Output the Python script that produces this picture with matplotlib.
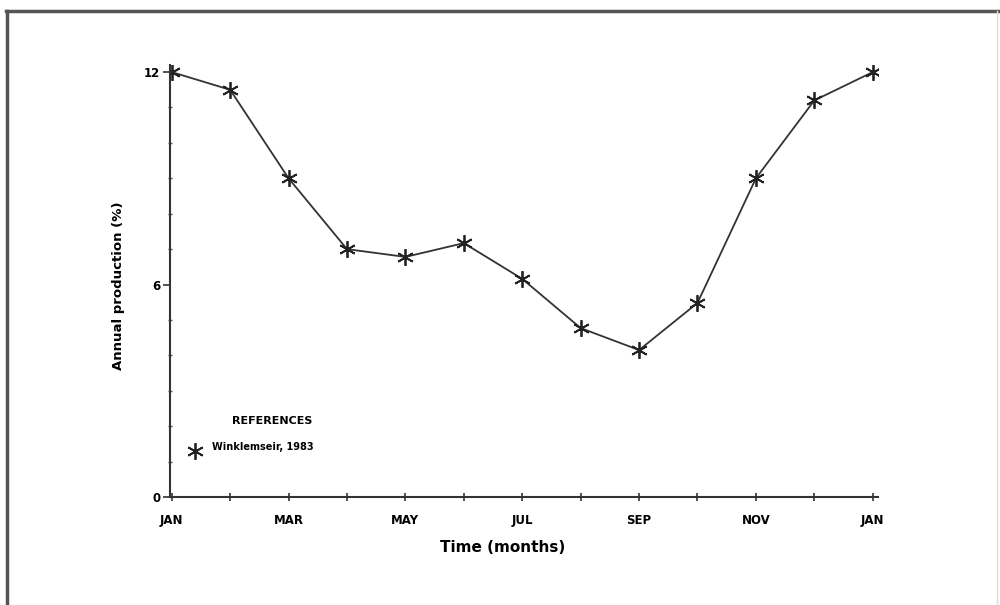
import matplotlib
matplotlib.use("Agg")
import matplotlib.pyplot as plt
from matplotlib.lines import Line2D

months = ["JAN", "FEB", "MAR", "APR", "MAY", "JUN", "JUL", "AUG", "SEP", "OCT", "NOV", "DEC", "JAN"]
production = [12.0, 11.5, 9.0, 7.0, 6.78, 7.17, 6.16, 4.77, 4.15, 5.48, 9.0, 11.2, 12.0]
xtick_labels = ["JAN", "", "MAR", "", "MAY", "", "JUL", "", "SEP", "", "NOV", "", "JAN"]
ytick_values = [0, 6, 12]

plt.rcParams['font.family'] = ['DejaVu Sans']
fig = plt.figure(figsize=(10, 6.05), dpi=100)
fig.patch.set_facecolor('white')

# outer frame lines
fig.add_artist(Line2D([0.006, 1.0], [1 - 11/605, 1 - 11/605], color='#555555', lw=2.5, transform=fig.transFigure))
fig.add_artist(Line2D([0.007, 0.007], [0, 1 - 11/605], color='#555555', lw=2.5, transform=fig.transFigure))
fig.add_artist(Line2D([0.997, 0.997], [0, 1 - 11/605], color='#dddddd', lw=1, transform=fig.transFigure))

ax = fig.add_axes([0.170, 1 - 497/605, 0.708, (497 - 65)/605])
x = list(range(len(months)))
ax.plot(x, production, color='#333333', lw=1.3, marker=(6, 2, 0), markersize=12,
        markeredgewidth=1.3, markeredgecolor='#222222')

ax.set_xlim(-0.03, 12.09)
ax.set_ylim(0, 12.2)
ax.set_xticks(x)
ax.set_xticklabels(xtick_labels, fontsize=8.5, fontweight='bold')
ax.set_yticks(ytick_values)
ax.set_yticklabels([str(v) for v in ytick_values], fontsize=8.5, fontweight='bold')
ax.set_yticks(range(0, 13), minor=True)
ax.tick_params(axis='y', which='minor', length=3, width=1, color='#555555', direction='inout')
ax.tick_params(axis='y', which='major', length=5, width=1.2, color='#333333', direction='out', pad=2)
ax.tick_params(axis='x', which='major', length=6, width=1.2, color='#333333', direction='inout', pad=9)

for s in ['top', 'right']:
    ax.spines[s].set_visible(False)
for s in ['left', 'bottom']:
    ax.spines[s].set_color('#333333')
    ax.spines[s].set_linewidth(1.5)

ax.set_xlabel("Time (months)", fontsize=11, fontweight='bold')
ax.xaxis.set_label_coords(0.47, -0.10)
ax.set_ylabel("Annual production (%)", fontsize=9.5, fontweight='bold')
ax.yaxis.set_label_coords(-0.063, 0.49)

# legend block
ax.text(0.0876, 0.176, "REFERENCES", transform=ax.transAxes, fontsize=8, fontweight='bold', va='center')
ax.plot([0.0353], [0.1065], transform=ax.transAxes, marker=(6, 2, 0), markersize=12,
        markeredgewidth=1.3, markeredgecolor='#222222', linestyle='none')
ax.text(0.0593, 0.1157, "Winklemseir, 1983", transform=ax.transAxes, fontsize=7, fontweight='bold', va='center')

fig.savefig("out.png", dpi=100, facecolor='white')
